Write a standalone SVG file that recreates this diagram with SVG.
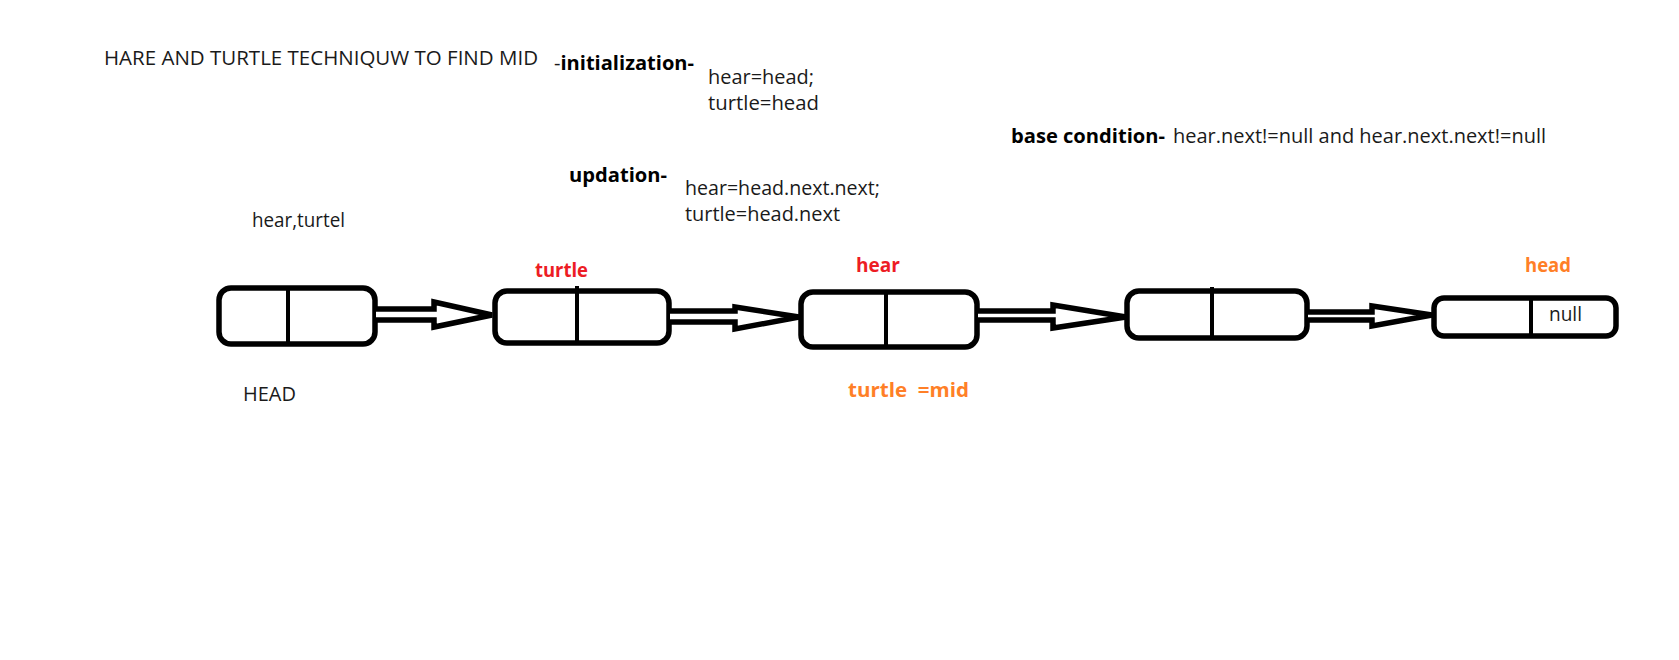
<svg xmlns="http://www.w3.org/2000/svg" width="1679" height="660" viewBox="0 0 1679 660">
<style>
.t{font-family:"Open Sans","Noto Sans","Liberation Sans",sans-serif;font-size:20px;fill:#1a1a1a}
.b{font-weight:bold;fill:#000}
.red{fill:#ed1c24;font-weight:bold}
.org{fill:#ff7f27;font-weight:bold}
.node{fill:#fff;stroke:#000;stroke-width:5.5}
.div{stroke:#000;stroke-width:4}
.arr{fill:#fff;stroke:#000;stroke-width:5.5;stroke-linejoin:miter}
</style>
<rect width="1679" height="660" fill="#fff"/>
<g id="texts">
<text class="t" x="104" y="65" textLength="434" lengthAdjust="spacingAndGlyphs">HARE AND TURTLE TECHNIQUW TO FIND MID</text>
<text class="t" x="554" y="70" textLength="140" lengthAdjust="spacingAndGlyphs">-<tspan class="b">initialization-</tspan></text>
<text class="t" x="708" y="84" textLength="106" lengthAdjust="spacingAndGlyphs">hear=head;</text>
<text class="t" x="708" y="110" textLength="111" lengthAdjust="spacingAndGlyphs">turtle=head</text>
<text class="t b" x="1011" y="143" textLength="154" lengthAdjust="spacingAndGlyphs">base condition-</text>
<text class="t" x="1173" y="143" textLength="373" lengthAdjust="spacingAndGlyphs">hear.next!=null and hear.next.next!=null</text>
<text class="t b" x="569" y="182" textLength="98" lengthAdjust="spacingAndGlyphs">updation-</text>
<text class="t" x="685" y="195" textLength="195" lengthAdjust="spacingAndGlyphs">hear=head.next.next;</text>
<text class="t" x="685" y="221" textLength="155" lengthAdjust="spacingAndGlyphs">turtle=head.next</text>
<text class="t" x="252" y="227" textLength="93" lengthAdjust="spacingAndGlyphs">hear,turtel</text>
<text class="t red" x="535" y="277" textLength="53" lengthAdjust="spacingAndGlyphs">turtle</text>
<text class="t red" x="856" y="272" textLength="44" lengthAdjust="spacingAndGlyphs">hear</text>
<text class="t org" x="1525" y="272" textLength="46" lengthAdjust="spacingAndGlyphs">head</text>
<text class="t" x="243" y="401" textLength="53" lengthAdjust="spacingAndGlyphs">HEAD</text>
<text class="t org" x="848" y="397" textLength="121" lengthAdjust="spacingAndGlyphs" xml:space="preserve">turtle  =mid</text>
</g>
<g id="node1">
<rect class="node" x="219" y="288" width="156" height="56" rx="12"/>
<line class="div" x1="288" y1="287" x2="288" y2="345"/>
</g>
<g id="node2">
<rect class="node" x="495" y="291" width="174" height="52" rx="12"/>
<line class="div" x1="577" y1="286" x2="577" y2="345"/>
</g>
<g id="node3">
<rect class="node" x="801" y="292" width="176" height="55" rx="12"/>
<line class="div" x1="886" y1="290" x2="886" y2="348"/>
</g>
<g id="node4">
<rect class="node" x="1127" y="291" width="180" height="47" rx="12"/>
<line class="div" x1="1212" y1="287" x2="1212" y2="340"/>
</g>
<g id="node5">
<rect class="node" x="1434" y="298" width="182" height="38" rx="10"/>
<line class="div" x1="1531" y1="299" x2="1531" y2="338"/>
<text class="t" x="1549" y="321" textLength="33" lengthAdjust="spacingAndGlyphs">null</text>
</g>
<g id="connectors">
<path class="arr" d="M376,309 L434,309 L434,302 L492,315 L434,327 L434,320 L376,320"/>
<path class="arr" d="M670,311 L735,311 L735,307 L799,317 L735,329 L735,322 L670,322"/>
<path class="arr" d="M978,311 L1053,311 L1053,305 L1126,317 L1053,328 L1053,320 L978,320"/>
<path class="arr" d="M1308,312 L1372,312 L1372,306 L1432,315 L1372,326 L1372,320 L1308,320"/>
</g>
</svg>
